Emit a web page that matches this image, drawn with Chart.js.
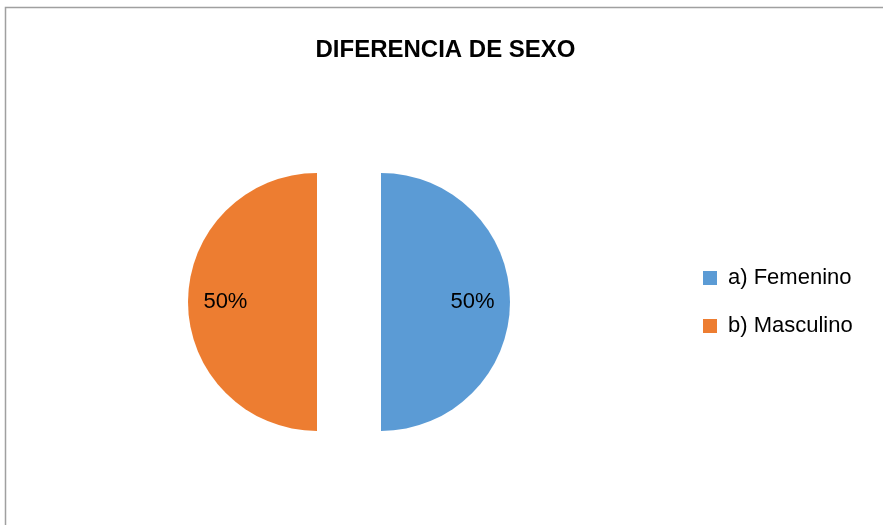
<!DOCTYPE html>
<html>
<head>
<meta charset="utf-8">
<script src="https://cdn.jsdelivr.net/npm/chart.js@4/dist/chart.umd.min.js"></script>
<style>
  html, body { margin: 0; padding: 0; background: #fff; }
  #wrap { position: relative; width: 883px; height: 525px; }
</style>
</head>
<body>
<div id="wrap"><canvas id="chartSexo"></canvas></div>
<script>
// data
var categorias = ["a) Femenino", "b) Masculino"];
var porcentajes = [50, 50];
var colores = ["#5B9BD5", "#ED7D31"];

var separacion = 32; // how far each slice is pulled out

// the frame of the original chart (only top and left edge visible)
var marco = {
  id: "marco",
  beforeDraw: function (chart) {
    var ctx = chart.ctx;
    ctx.save();
    ctx.fillStyle = "#fff";
    ctx.fillRect(0, 0, chart.width, chart.height);
    ctx.strokeStyle = "#a0a0a0";
    ctx.lineWidth = 1.5;
    ctx.strokeRect(5.5, 7.5, chart.width + 20, chart.height + 20);
    ctx.restore();
  }
};

// exploded pie: chart.js' own offset tilts the flat edges, so shift each arc here
var explotar = {
  id: "explotar",
  beforeDatasetDraw: function (chart, args) {
    var ctx = chart.ctx;
    args.meta.data.forEach(function (arc) {
      var p = arc.getProps(["startAngle", "endAngle"], true);
      var mid = (p.startAngle + p.endAngle) / 2;
      ctx.save();
      ctx.translate(Math.cos(mid) * separacion, Math.sin(mid) * separacion);
      arc.draw(ctx);
      ctx.restore();
    });
    return false;
  }
};

// "50%" labels inside each slice
var etiquetas = {
  id: "etiquetas",
  afterDatasetsDraw: function (chart) {
    var ctx = chart.ctx;
    var meta = chart.getDatasetMeta(0);
    var ds = chart.data.datasets[0];
    var total = ds.data.reduce((a, b) => a + b, 0);
    ctx.save();
    ctx.font = "22px 'Liberation Sans', Arial, sans-serif";
    ctx.fillStyle = "#000";
    ctx.textAlign = "center";
    ctx.textBaseline = "middle";
    meta.data.forEach(function (arc, i) {
      var p = arc.getProps(["x", "y", "startAngle", "endAngle", "outerRadius"], true);
      var mid = (p.startAngle + p.endAngle) / 2;
      var d = separacion + p.outerRadius * 0.71;
      var txt = Math.round(ds.data[i] / total * 100) + "%";
      ctx.fillText(txt, p.x + Math.cos(mid) * d, p.y + Math.sin(mid) * d);
    });
    ctx.restore();
  }
};

// give the legend a fixed width so the pie lands where it should
var anchoLeyenda = {
  id: "anchoLeyenda",
  beforeInit: function (chart) {
    var fitOrig = chart.legend.fit;
    chart.legend.fit = function () {
      fitOrig.bind(chart.legend)();
      this.width = 193;
    };
  }
};

var ctx1 = document.getElementById("chartSexo").getContext("2d");

new Chart(ctx1, {
  type: "pie",
  data: {
    labels: categorias,
    datasets: [{
      data: porcentajes,
      backgroundColor: colores,
      borderWidth: 0,
      radius: 129
    }]
  },
  options: {
    responsive: true,
    maintainAspectRatio: false,
    animation: false,
    layout: {
      padding: { left: 21, right: 13, top: 10, bottom: 0 }
    },
    plugins: {
      title: {
        display: true,
        text: "DIFERENCIA DE SEXO",
        color: "#000",
        font: { size: 24, weight: "bold", family: "'Liberation Sans', Arial, sans-serif" },
        padding: { top: 26, bottom: 14 }
      },
      legend: {
        display: true,
        position: "right",
        align: "center",
        fullSize: false,
        labels: {
          color: "#000",
          boxWidth: 14,
          boxHeight: 14,
          padding: 26,
          font: { size: 22, family: "'Liberation Sans', Arial, sans-serif" }
        }
      },
      tooltip: { enabled: false }
    }
  },
  plugins: [marco, explotar, etiquetas, anchoLeyenda]
});
</script>
</body>
</html>
